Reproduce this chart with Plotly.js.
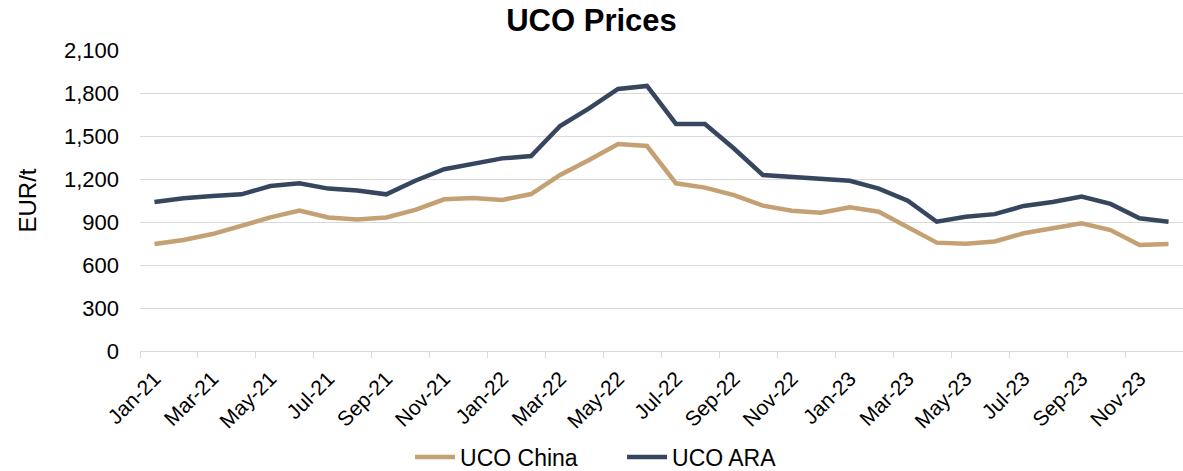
<!DOCTYPE html>
<html><head><meta charset="utf-8">
<script src="https://cdn.plot.ly/plotly-3.0.1.min.js"></script>
<style>html,body{margin:0;padding:0;background:#fff}#chart{width:1183px;height:471px}</style>
</head><body><div id="chart"></div>
<script>
const months = ["Jan-21","Feb-21","Mar-21","Apr-21","May-21","Jun-21","Jul-21","Aug-21","Sep-21","Oct-21","Nov-21","Dec-21",
"Jan-22","Feb-22","Mar-22","Apr-22","May-22","Jun-22","Jul-22","Aug-22","Sep-22","Oct-22","Nov-22","Dec-22",
"Jan-23","Feb-23","Mar-23","Apr-23","May-23","Jun-23","Jul-23","Aug-23","Sep-23","Oct-23","Nov-23","Dec-23"];
const ucoChina = [746,774,816,877,932,979,932,918,932,984,1058,1067,1054,1095,1228,1333,1444,1430,1170,1140,1088,1014,979,965,1002,972,867,756,748,764,821,858,891,844,740,746];
const ucoARA = [1040,1065,1081,1093,1151,1170,1133,1119,1093,1188,1268,1309,1344,1360,1570,1693,1828,1849,1584,1584,1413,1228,1216,1207,1188,1133,1049,902,937,955,1012,1040,1077,1026,926,902];
const seriesNames = ["UCO China","UCO ARA"];
const colors = ["#C4A072","#37465F"];

const font = "Liberation Sans, Arial, sans-serif";
const traces = [
  {x: months, y: ucoChina, name: seriesNames[0], type: "scatter", mode: "lines", line: {color: colors[0], width: 4.5}},
  {x: months, y: ucoARA, name: seriesNames[1], type: "scatter", mode: "lines", line: {color: colors[1], width: 4.5}}
];
const layout = {
  width: 1183, height: 471,
  margin: {l: 140, r: 0, t: 50, b: 120, autoexpand: false},
  paper_bgcolor: "#fff", plot_bgcolor: "#fff",
  font: {family: font, size: 22, color: "#000"},
  title: {text: "<b>UCO Prices</b>", font: {family: font, size: 31, color: "#000"}, x: 0.5, xanchor: "center", y: 0.957, yanchor: "middle"},
  xaxis: {
    type: "category", tickmode: "linear", tick0: 0, dtick: 2, automargin: false,
    tickson: "boundaries", ticks: "outside", ticklen: 6, tickcolor: "#d9d9d9",
    tickangle: -45, showgrid: false, showline: true, linecolor: "#d9d9d9", linewidth: 1,
    ticklabelstandoff: 6,
    tickfont: {family: font, size: 21, color: "#000"}, range: [-0.5, 35.5]
  },
  yaxis: {
    range: [0, 2100], tickmode: "linear", tick0: 0, dtick: 300, tickformat: ",", automargin: false,
    showgrid: true, gridcolor: "#d9d9d9", gridwidth: 1, zeroline: false, showline: false,
    ticks: "", ticklabelstandoff: 20,
    tickfont: {family: font, size: 22, color: "#000"},
    title: {text: "EUR/t", font: {family: font, size: 24, color: "#000"}, standoff: 20}
  },
  showlegend: true,
  legend: {orientation: "h", x: 0.2589, xanchor: "left", y: -0.352, yanchor: "middle", font: {family: font, size: 23, color: "#000"},
           itemwidth: 40, entrywidth: 157, entrywidthmode: "pixels", tracegroupgap: 0}
};
Plotly.newPlot("chart", traces, layout, {displayModeBar: false, staticPlot: true});
</script></body></html>
